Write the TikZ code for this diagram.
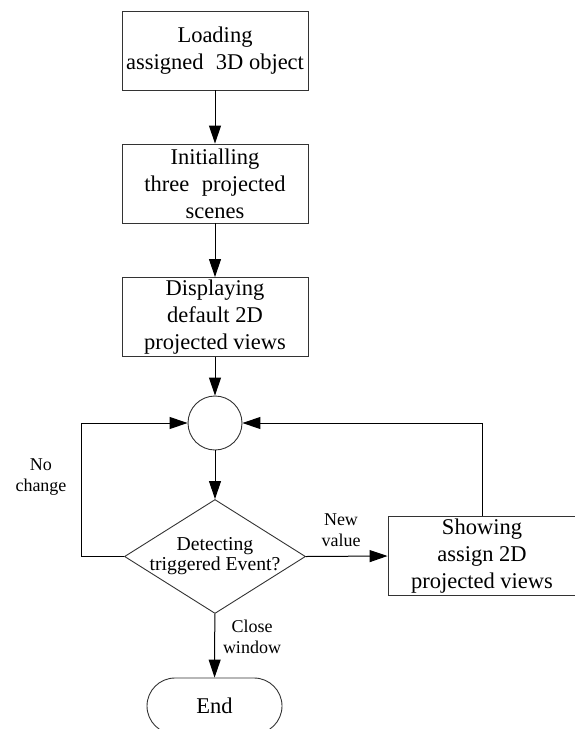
\documentclass[tikz,border=0pt]{standalone}
\usepackage{fontspec}
\setmainfont{Liberation Serif}
\usetikzlibrary{arrows.meta,shapes.geometric,shapes.misc}

\tikzset{
  boxtext/.style={font=\fontsize{22.5}{27}\selectfont, align=center},
  procbox/.style={draw=black!80, line width=0.9pt, rectangle, inner sep=0pt,
                  minimum width=186pt, minimum height=79pt, boxtext},
  joint/.style={draw=black!80, line width=0.9pt, circle, inner sep=0pt, minimum size=54pt},
  decision/.style={draw=black!80, line width=0.9pt, diamond, inner sep=0pt,
                   minimum width=181pt, minimum height=114pt},
  terminal/.style={draw=black!80, line width=0.9pt, rounded rectangle, inner sep=0pt,
                   minimum width=135pt, minimum height=56pt, boxtext},
  flowlabel/.style={font=\fontsize{18}{21}\selectfont, align=center, inner sep=0pt},
  arr/.style={line width=1pt, -{Triangle[length=18pt,width=12pt]}}
}

\begin{document}
\begin{tikzpicture}[x=1pt, y=-1pt]
  \useasboundingbox (0,0) rectangle (574,729);

  % main column
  \node[procbox] (load) at (215,50.5) {Loading\\assigned\hspace{0.3em} 3D object};
  \node[procbox] (init) at (215,183.5) {Initialling\\three\hspace{0.3em} projected\\scenes};
  \node[procbox] (disp) at (215,317) {Displaying\\default 2D\\projected views};
  \node[joint] (merge) at (215,423) {};
  \node[decision, label={[font=\fontsize{19.7}{20}\selectfont, align=center, inner sep=0pt]center:Detecting\\triggered Event?}] (detect) at (215,556.5) {};
  \node[terminal] (endnode) at (214.5,706) {End};

  % side box, running past the right margin
  \node[procbox, minimum width=188pt] (show) at (482,556) {Showing\\assign 2D\\projected views};

  % loop corner on the left
  \coordinate (lcorner) at (81,423);

  % connectors
  \draw[arr] (load) -- (init);
  \draw[arr] (init) -- (disp);
  \draw[arr] (disp) -- (merge);
  \draw[arr] (merge) -- (detect);
  \draw[arr] (detect) -- (endnode);
  \draw[arr] (detect.east) -- (show.west);
  \draw[arr] (detect.west) -| (lcorner) -- (merge.west);
  \draw[arr] (show.north) |- (merge.east);

  % branch labels
  \node[flowlabel] (nochange) at (41,477) {No\\change};
  \node[flowlabel] (newval) at (341,530) {New\\value};
  \node[flowlabel] (closewin) at (252,636.5) {Close\\window};
\end{tikzpicture}
\end{document}
